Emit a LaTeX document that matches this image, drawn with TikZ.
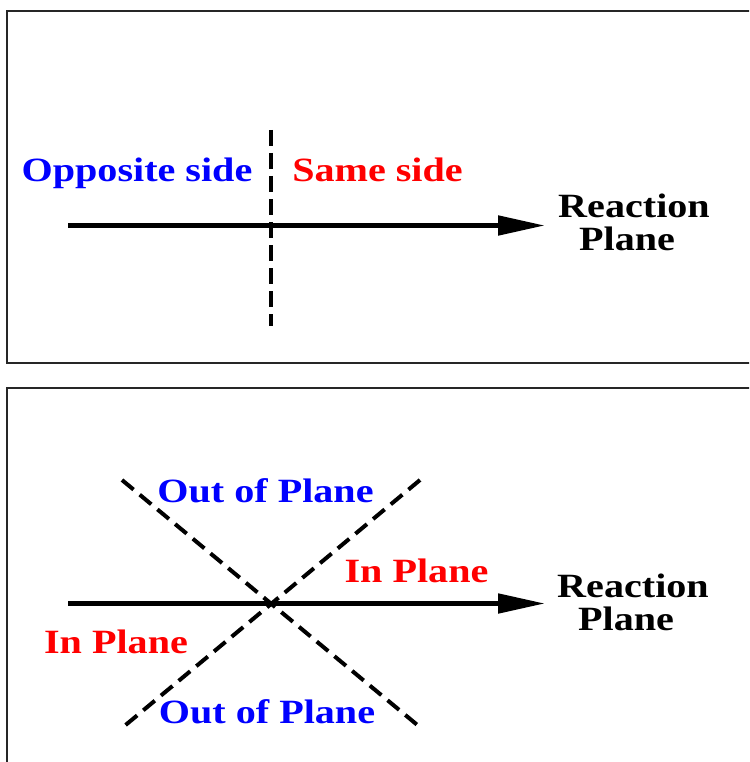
\documentclass[tikz,border=0pt]{standalone}
\usepackage{fontspec}
\setmainfont{Liberation Serif}
\usetikzlibrary{arrows.meta}
\newcommand{\stretchtxt}[1]{\scalebox{1.18}[1]{#1}}
\tikzset{
  lbl/.style={font=\fontsize{34}{34}\selectfont\bfseries, inner sep=0pt, anchor=base},
  bluelbl/.style={lbl, text={rgb,255:red,0;green,0;blue,255}},
  redlbl/.style={lbl, text={rgb,255:red,255;green,0;blue,0}},
  blacklbl/.style={lbl, text=black},
  panel/.style={draw=black!85, line width=1.5pt},
  mainarrow/.style={line width=5pt, -{Triangle[length=47pt,width=19pt]}},
  dashline/.style={line width=3.6pt, dash pattern=on 16pt off 7pt},
  diagline/.style={line width=4pt, dash pattern=on 15pt off 8pt}
}
\begin{document}
\begin{tikzpicture}[x=1pt,y=-1pt]
\useasboundingbox (0,0) rectangle (749,762);
\clip (0,0) rectangle (749,762);
% panels
\draw[panel] (7,11) rectangle (770,363);
\draw[panel] (7,388) rectangle (770,790);
% ---- top panel ----
\coordinate (a1s) at (68,225.5);
\coordinate (a1e) at (545,225.5);
\coordinate (v1t) at (271,130);
\coordinate (v1b) at (271,326);
\draw[mainarrow] (a1s) -- (a1e);
\draw[dashline] (v1t) -- (v1b);
\node[bluelbl] (opp) at (137,182) {\stretchtxt{Opposite side}};
\node[redlbl] (same) at (377.5,182) {\stretchtxt{Same side}};
\node[blacklbl] (rp1a) at (634,217) {\stretchtxt{Reaction}};
\node[blacklbl] (rp1b) at (627,250) {\stretchtxt{Plane}};
% ---- bottom panel ----
\coordinate (a2s) at (68,603.5);
\coordinate (a2e) at (545,603.5);
\coordinate (d1a) at (122,480);
\coordinate (d1b) at (421,728);
\coordinate (d2a) at (420,480);
\coordinate (d2b) at (122,728);
\draw[mainarrow] (a2s) -- (a2e);
\draw[diagline] (d1a) -- (d1b);
\draw[diagline] (d2a) -- (d2b);
\node[bluelbl] (oop1) at (265.5,502) {\stretchtxt{Out of Plane}};
\node[bluelbl] (oop2) at (267,723) {\stretchtxt{Out of Plane}};
\node[redlbl] (ip1) at (416.5,582) {\stretchtxt{In Plane}};
\node[redlbl] (ip2) at (116,653) {\stretchtxt{In Plane}};
\node[blacklbl] (rp2a) at (633,597) {\stretchtxt{Reaction}};
\node[blacklbl] (rp2b) at (626,630) {\stretchtxt{Plane}};
\end{tikzpicture}
\end{document}
